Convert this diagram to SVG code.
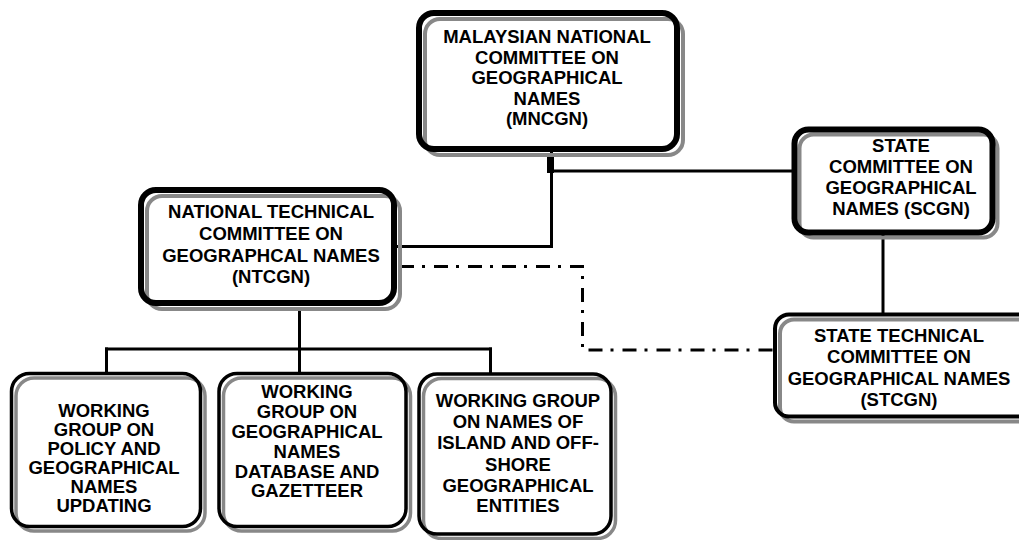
<svg xmlns="http://www.w3.org/2000/svg" width="1019" height="540" viewBox="0 0 1019 540">
<style>
.fill{fill:#fff;stroke:none}
.sh{fill:none;stroke:#888;stroke-width:4}
.bd{fill:none;stroke:#000;stroke-width:6}
.bd4{fill:none;stroke:#000;stroke-width:4}
.sh3{fill:none;stroke:#888;stroke-width:3.5}
.bd3{fill:none;stroke:#000;stroke-width:3.5}
text{font-family:"Liberation Sans",Arial,Helvetica,sans-serif;font-weight:bold;font-size:18.5px;fill:#000;text-anchor:middle}
.ln{fill:none;stroke:#000;stroke-width:3}
.dd{fill:none;stroke:#000;stroke-width:3;stroke-dasharray:14 8 3 9}
</style>
<rect width="1019" height="540" fill="#fff"/>
<g id="connectors">
<line class="ln" x1="551.5" y1="138" x2="551.5" y2="248"/>
<rect x="547" y="157" width="7" height="16" fill="#000"/>
<line class="ln" x1="553" y1="171" x2="794" y2="171"/>
<line class="ln" x1="397" y1="246.5" x2="553" y2="246.5"/>
<polyline class="dd" points="400,266.5 582.5,266.5 582.5,350 774,350"/>
<line class="ln" x1="883" y1="235" x2="883" y2="314"/>
<line class="ln" x1="299.5" y1="308" x2="299.5" y2="373"/>
<line class="ln" x1="105" y1="349" x2="492" y2="349"/>
<line class="ln" x1="106.5" y1="347.5" x2="106.5" y2="374"/>
<line class="ln" x1="490.5" y1="347.5" x2="490.5" y2="374"/>
</g>
<g id="mncgn">
<rect class="fill" x="419" y="13" width="258" height="136" rx="15"/>
<rect class="sh" x="425" y="19" width="258" height="136" rx="15"/>
<rect class="bd" x="419" y="13" width="258" height="136" rx="15"/>
<text x="547" y="43">MALAYSIAN NATIONAL</text>
<text x="547" y="63.5">COMMITTEE ON</text>
<text x="547" y="84">GEOGRAPHICAL</text>
<text x="547" y="104.5">NAMES</text>
<text x="547" y="125">(MNCGN)</text>
</g>
<g id="ntcgn">
<rect class="fill" x="141" y="190" width="253" height="113" rx="15"/>
<rect class="sh" x="147" y="196" width="253" height="113" rx="15"/>
<rect class="bd" x="141" y="190" width="253" height="113" rx="15"/>
<text x="271" y="218">NATIONAL TECHNICAL</text>
<text x="271" y="240">COMMITTEE ON</text>
<text x="271" y="261.5">GEOGRAPHCAL NAMES</text>
<text x="271" y="283">(NTCGN)</text>
</g>
<g id="scgn">
<rect class="fill" x="794.5" y="129.5" width="198" height="103" rx="14"/>
<rect class="sh" x="799.5" y="134.5" width="198" height="103" rx="14"/>
<rect class="bd" x="794.5" y="129.5" width="198" height="103" rx="14"/>
<text x="901" y="152">STATE</text>
<text x="901" y="173">COMMITTEE ON</text>
<text x="901" y="194">GEOGRAPHICAL</text>
<text x="901" y="215">NAMES (SCGN)</text>
</g>
<g id="stcgn">
<rect class="fill" x="775" y="314.5" width="300" height="102" rx="14"/>
<rect class="sh" x="780" y="319.5" width="300" height="102" rx="14"/>
<rect class="bd4" x="775" y="314.5" width="300" height="102" rx="14"/>
<text x="899" y="342">STATE TECHNICAL</text>
<text x="899" y="363">COMMITTEE ON</text>
<text x="899" y="385">GEOGRAPHICAL NAMES</text>
<text x="899" y="406">(STCGN)</text>
</g>
<g id="wg1">
<rect class="fill" x="11.5" y="373.5" width="189" height="153" rx="18"/>
<rect class="sh3" x="16" y="378" width="189" height="153" rx="18"/>
<rect class="bd3" x="11.5" y="373.5" width="189" height="153" rx="18"/>
<text x="104" y="417">WORKING</text>
<text x="104" y="436">GROUP ON</text>
<text x="104" y="455">POLICY AND</text>
<text x="104" y="474">GEOGRAPHICAL</text>
<text x="104" y="493">NAMES</text>
<text x="104" y="512">UPDATING</text>
</g>
<g id="wg2">
<rect class="fill" x="219" y="373.5" width="187" height="153" rx="18"/>
<rect class="sh3" x="223.5" y="378" width="187" height="153" rx="18"/>
<rect class="bd3" x="219" y="373.5" width="187" height="153" rx="18"/>
<text x="307" y="398">WORKING</text>
<text x="307" y="418">GROUP ON</text>
<text x="307" y="438">GEOGRAPHICAL</text>
<text x="307" y="458">NAMES</text>
<text x="307" y="478">DATABASE AND</text>
<text x="307" y="497">GAZETTEER</text>
</g>
<g id="wg3">
<rect class="fill" x="419" y="374" width="192" height="160" rx="18"/>
<rect class="sh3" x="423.5" y="378.5" width="192" height="160" rx="18"/>
<rect class="bd3" x="419" y="374" width="192" height="160" rx="18"/>
<text x="518" y="407">WORKING GROUP</text>
<text x="518" y="428">ON NAMES OF</text>
<text x="518" y="449">ISLAND AND OFF-</text>
<text x="518" y="470.5">SHORE</text>
<text x="518" y="491.5">GEOGRAPHICAL</text>
<text x="518" y="512">ENTITIES</text>
</g>
</svg>
